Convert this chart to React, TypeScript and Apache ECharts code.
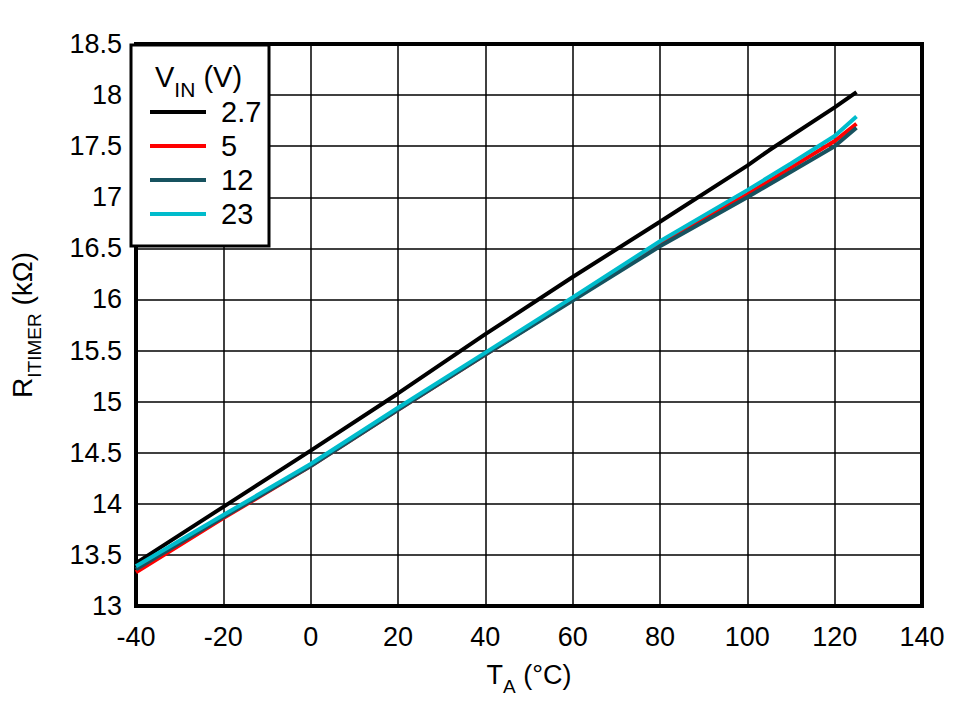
import React, { useEffect, useRef } from "react";
import * as echarts from "echarts";

const legendNames = ["2.7", "5", "12", "23"];
const seriesColors = ["#000000", "#ff0000", "#17525f", "#00bccc"];

const tempsBlack = [-40, -20, 0, 20, 40, 60, 80, 100, 105, 120, 125];
const valsBlack = [13.42, 13.97, 14.52, 15.08, 15.66, 16.22, 16.76, 17.31, 17.46, 17.88, 18.03];

const tempsOther = [-40, -20, 0, 20, 40, 60, 80, 100, 110, 120, 125];
const vals5 = [13.33, 13.86, 14.37, 14.92, 15.46, 16.0, 16.54, 17.03, 17.29, 17.55, 17.72];
const vals12 = [13.36, 13.87, 14.37, 14.92, 15.46, 15.99, 16.52, 17.0, 17.25, 17.5, 17.68];
const vals23 = [13.39, 13.89, 14.39, 14.94, 15.48, 16.02, 16.57, 17.07, 17.33, 17.6, 17.79];

const xMin = -40, xMax = 140, xStep = 20;
const yMin = 13, yMax = 18.5, yStep = 0.5;

const FONT = "'Liberation Sans', Arial, sans-serif";

export default function App() {
  const ref = useRef<HTMLDivElement>(null);
  useEffect(() => {
    if (!ref.current) return;
    const chart = echarts.init(ref.current, null, { renderer: "svg" });
    const pair = (xs: number[], ys: number[]) => xs.map((x, i) => [x, ys[i]]);
    const datasets = [
      pair(tempsBlack, valsBlack),
      pair(tempsOther, vals5),
      pair(tempsOther, vals12),
      pair(tempsOther, vals23),
    ];
    chart.setOption({
      animation: false,
      backgroundColor: "#ffffff",
      grid: {
        left: 130,
        right: 50,
        top: 44,
        bottom: 94,
        show: true,
        borderColor: "#000",
        borderWidth: 4,
        containLabel: false,
      },
      xAxis: {
        type: "value",
        min: xMin,
        max: xMax,
        interval: xStep,
        axisLine: { show: false },
        axisTick: { show: false },
        splitLine: { show: true, lineStyle: { color: "#000", width: 1.5 } },
        axisLabel: { color: "#000", fontSize: 27, fontFamily: FONT, margin: 17 },
        name: "{a|T}{b|A}{a| (°C)}",
        nameLocation: "middle",
        nameGap: 55,
        nameTextStyle: {
          rich: {
            a: { fontSize: 27, fontFamily: FONT, color: "#000" },
            b: { fontSize: 19, fontFamily: FONT, color: "#000", verticalAlign: "bottom", padding: [0, 0, -8, 0] },
          },
        },
      },
      yAxis: {
        type: "value",
        min: yMin,
        max: yMax,
        interval: yStep,
        axisLine: { show: false },
        axisTick: { show: false },
        splitLine: { show: true, lineStyle: { color: "#000", width: 1.5 } },
        axisLabel: { color: "#000", fontSize: 27, fontFamily: FONT, margin: 14 },
        name: "{a|R}{b|ITIMER}{a| (kΩ)}",
        nameLocation: "middle",
        nameRotate: 90,
        nameGap: 100,
        nameTextStyle: {
          rich: {
            a: { fontSize: 28, fontFamily: FONT, color: "#000" },
            b: { fontSize: 19, fontFamily: FONT, color: "#000", verticalAlign: "bottom", padding: [0, 0, -8, 0] },
          },
        },
      },
      legend: {
        orient: "vertical",
        left: 145,
        top: 92,
        z: 10,
        icon: "rect",
        itemWidth: 56,
        itemHeight: 4,
        itemGap: 4,
        data: legendNames,
        selectedMode: false,
        textStyle: { color: "#000", fontSize: 29, fontFamily: FONT, lineHeight: 30, padding: [0, 0, 0, 10] },
      },
      graphic: [
        {
          type: "rect",
          z: 8,
          shape: { x: 131, y: 45, width: 138, height: 201 },
          style: { fill: "#fff", stroke: "#000", lineWidth: 3 },
        },
        {
          type: "text",
          z: 11,
          x: 155,
          y: 77,
          style: {
            text: "{a|V}{b|IN}{a| (V)}",
            verticalAlign: "middle",
            rich: {
              a: { fontSize: 29, fontFamily: FONT, fill: "#000" },
              b: { fontSize: 21, fontFamily: FONT, fill: "#000", verticalAlign: "bottom", padding: [0, 0, -8, 0] },
            },
          },
        },
      ],
      series: datasets.map((d, i) => ({
        name: legendNames[i],
        type: "line",
        data: d,
        symbol: "none",
        smooth: false,
        lineStyle: { color: seriesColors[i], width: 4 },
        itemStyle: { color: seriesColors[i] },
        z: 2 + i,
      })),
    });
    return () => chart.dispose();
  }, []);
  return (
    <div
      ref={ref}
      style={{ position: "fixed", left: 0, top: 0, width: 972, height: 701 }}
    />
  );
}
